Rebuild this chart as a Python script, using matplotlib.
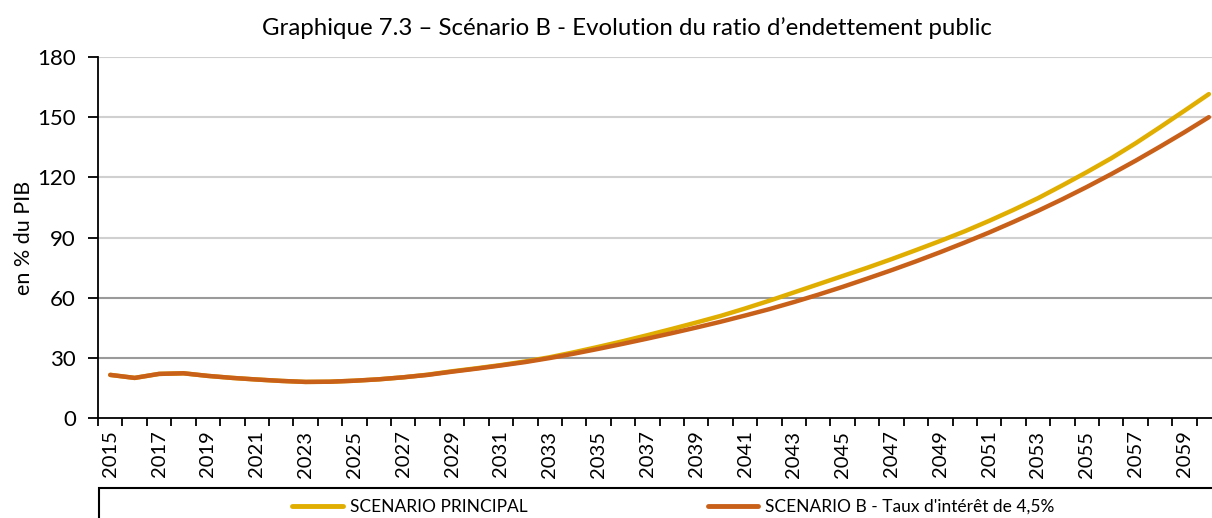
import numpy as np
import matplotlib.pyplot as plt
from matplotlib.patches import Rectangle

plt.rcParams['font.family'] = ['Lato', 'DejaVu Sans']

# Donnees
annees = list(range(2015, 2061))
principal = [21.5, 20.0, 22.0, 22.3, 21.0, 20.0, 19.2, 18.5, 18.0, 18.1,
             18.6, 19.3, 20.3, 21.6, 23.3, 24.8, 26.4, 28.2, 30.3, 32.8,
             35.5, 38.3, 41.3, 44.4, 47.6, 50.9, 54.6, 58.5, 62.6, 66.7,
             70.8, 74.9, 79.2, 83.7, 88.3, 93.1, 98.3, 103.8, 109.6, 116.0,
             122.6, 129.5, 137.0, 145.0, 153.2, 161.5]
scenario_b = [21.5, 20.0, 22.0, 22.3, 21.0, 20.0, 19.2, 18.5, 18.0, 18.1,
              18.6, 19.3, 20.3, 21.5, 23.1, 24.6, 26.2, 27.9, 29.9, 32.1,
              34.5, 37.0, 39.6, 42.3, 45.1, 48.0, 51.1, 54.3, 57.8, 61.5,
              65.4, 69.5, 73.7, 78.1, 82.7, 87.5, 92.5, 97.8, 103.3, 109.1,
              115.2, 121.6, 128.3, 135.3, 142.5, 150.0]
noms = ['SCENARIO PRINCIPAL', "SCENARIO B - Taux d'intérêt de 4,5%"]
couleurs = ['#E0AE00', '#C9601A']

fig = plt.figure(figsize=(12.12, 5.18), dpi=100)
ax = fig.add_axes([0.0809, 0.193, 0.9266, 0.697])

l1, = ax.plot(annees, principal, color=couleurs[0], lw=3.2, solid_capstyle='round', zorder=3)
l2, = ax.plot(annees, scenario_b, color=couleurs[1], lw=3.2, solid_capstyle='round', zorder=4)

ax.set_xlim(2014.5, 2060.5)
ax.set_ylim(0, 180)
ax.set_yticks(range(0, 181, 30))
for v in range(30, 181, 30):
    c = '#9a9a9a' if v in (30, 60) else '#d0d0d0'
    ax.axhline(v, color=c, lw=1.5, zorder=1)

ax.set_xticks(annees[::2])
ax.set_xticklabels([str(a) for a in annees[::2]], rotation=90)
ax.set_xticks(np.arange(2014.5, 2061, 1), minor=True)
ax.tick_params(axis='x', which='major', length=0, pad=9, labelsize=14.5)
ax.tick_params(axis='x', which='minor', length=6, width=1.3, direction='out')
ax.tick_params(axis='y', length=7, width=1.3, labelsize=16, pad=9)

for s in ['top', 'right']:
    ax.spines[s].set_visible(False)
for s in ['left', 'bottom']:
    ax.spines[s].set_linewidth(1.3)

ax.set_ylabel('en % du PIB', fontsize=15.5, labelpad=2)
fig.text(0.517, 0.945, 'Graphique 7.3 – Scénario B - Evolution du ratio d’endettement public',
         ha='center', va='center', fontsize=17.3)

# cadre de la legende
fig.add_artist(Rectangle((99 / 1212, -0.1), 1.2, 0.1 + (518 - 488) / 518,
                         transform=fig.transFigure, fill=False, lw=1.5, ec='black'))
leg = fig.legend([l1, l2], noms, loc='center', bbox_to_anchor=(0.5556, 0.022),
                 ncol=2, frameon=False, fontsize=12.5, handlelength=2.9,
                 columnspacing=10.4, handletextpad=0.4)
for h in leg.get_lines():
    h.set_linewidth(3.5)

plt.savefig('out.png', dpi=100)
